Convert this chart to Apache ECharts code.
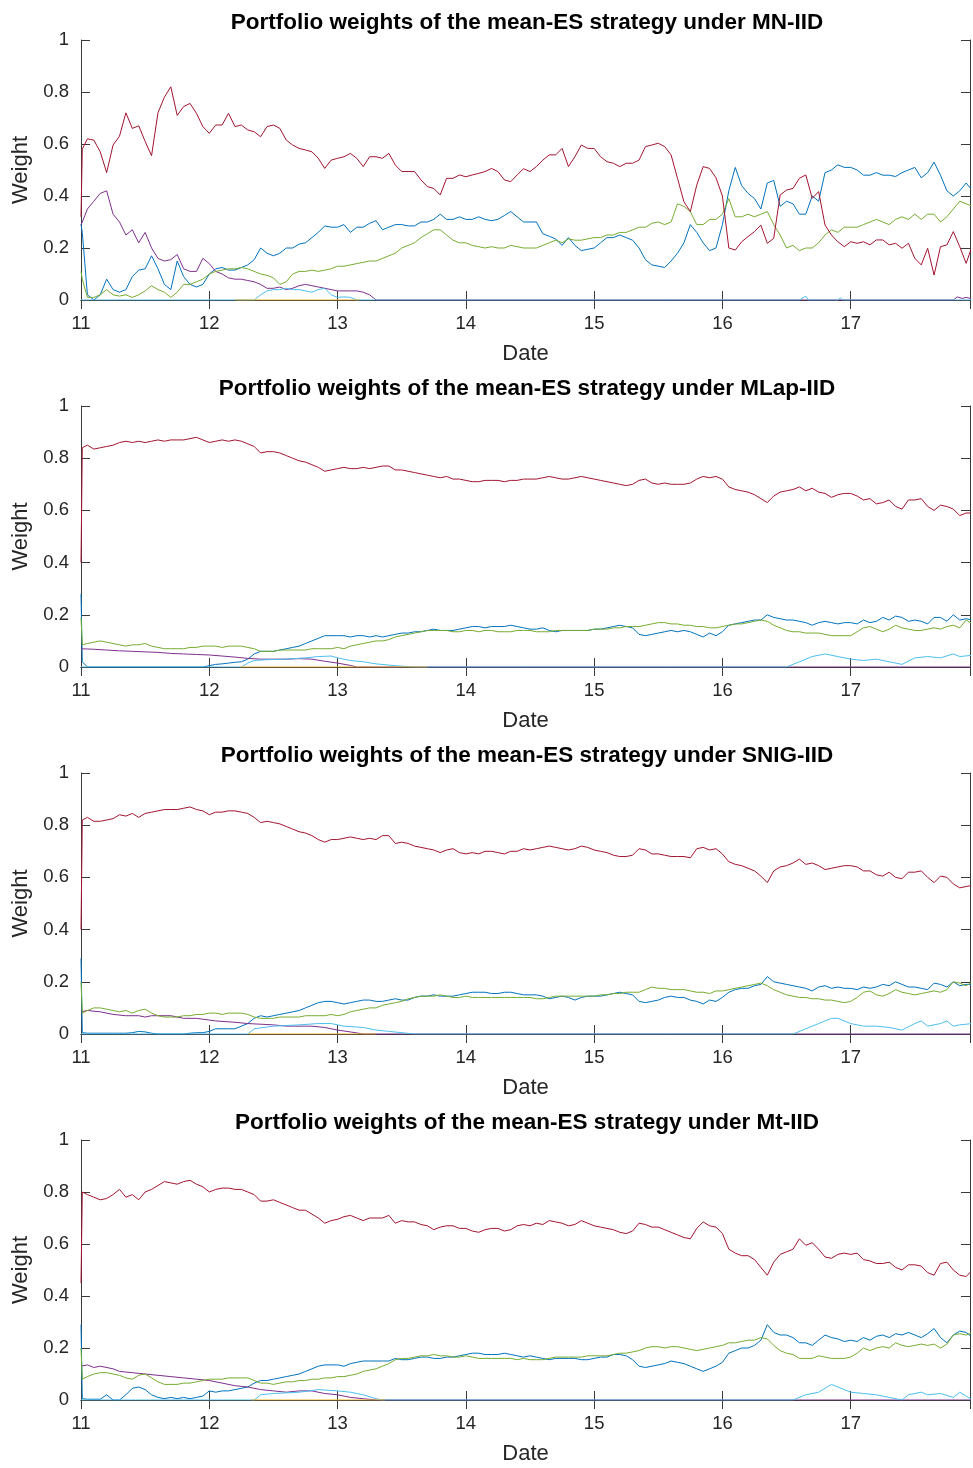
<!DOCTYPE html>
<html><head><meta charset="utf-8">
<script src="https://cdn.jsdelivr.net/npm/echarts@6/dist/echarts.min.js"></script>
<style>html,body{margin:0;padding:0;background:#fff}#c{width:973px;height:1468px}</style>
</head><body><div id="c"></div>
<script>
const panelTitles = [
  'Portfolio weights of the mean-ES strategy under MN-IID',
  'Portfolio weights of the mean-ES strategy under MLap-IID',
  'Portfolio weights of the mean-ES strategy under SNIG-IID',
  'Portfolio weights of the mean-ES strategy under Mt-IID'
];
const xName = 'Date', yName = 'Weight';

// x positions of the sampled values: start, just after start, then every 0.05
const xGrid = [11.0, 11.01];
for (let k = 1; k <= 139; k++) xGrid.push(+(11 + 0.05 * k).toFixed(2));

// ---------- Panel 1: MN-IID ----------
const mnRed = [0.32,
 0.58,0.62,0.615,0.57,0.49,0.596,0.63,0.72,0.66,0.67,0.61,0.555,0.72,0.78,0.82,0.71,0.744,0.756,0.718,0.667,
 0.641,0.673,0.673,0.718,0.667,0.673,0.654,0.647,0.628,0.667,0.673,0.66,0.615,0.596,0.583,0.577,0.57,0.545,0.506,0.538,
 0.545,0.551,0.564,0.545,0.513,0.551,0.551,0.545,0.564,0.519,0.494,0.494,0.494,0.462,0.436,0.429,0.404,0.468,0.468,0.481,
 0.474,0.481,0.487,0.494,0.506,0.494,0.462,0.455,0.481,0.505,0.494,0.513,0.538,0.558,0.558,0.583,0.513,0.551,0.596,0.583,
 0.583,0.551,0.532,0.526,0.513,0.526,0.526,0.538,0.59,0.596,0.603,0.59,0.558,0.468,0.378,0.34,0.442,0.513,0.506,0.47,
 0.40,0.2,0.192,0.224,0.244,0.263,0.288,0.218,0.237,0.404,0.423,0.429,0.468,0.481,0.391,0.417,0.288,0.25,0.224,0.205,
 0.224,0.218,0.224,0.212,0.231,0.231,0.212,0.218,0.199,0.218,0.16,0.135,0.199,0.096,0.205,0.212,0.263,0.205,0.141,0.212];
const mnBlue = [0.29,
 0.26,0.02,0.0,0.02,0.08,0.04,0.03,0.04,0.09,0.115,0.12,0.17,0.12,0.06,0.04,0.15,0.09,0.06,0.05,0.06,
 0.1,0.12,0.125,0.115,0.115,0.125,0.135,0.155,0.2,0.18,0.17,0.18,0.2,0.2,0.215,0.22,0.24,0.26,0.285,0.28,
 0.28,0.29,0.26,0.28,0.28,0.295,0.305,0.27,0.28,0.29,0.29,0.285,0.285,0.3,0.3,0.31,0.33,0.31,0.31,0.32,
 0.31,0.31,0.32,0.31,0.305,0.31,0.325,0.34,0.32,0.3,0.3,0.3,0.255,0.245,0.235,0.21,0.24,0.21,0.19,0.195,
 0.2,0.22,0.24,0.24,0.25,0.24,0.23,0.2,0.155,0.135,0.13,0.125,0.15,0.18,0.22,0.29,0.26,0.22,0.19,0.2,
 0.29,0.42,0.51,0.44,0.41,0.39,0.35,0.45,0.46,0.36,0.38,0.37,0.33,0.33,0.4,0.38,0.49,0.5,0.52,0.51,
 0.51,0.5,0.48,0.48,0.49,0.48,0.48,0.475,0.49,0.5,0.51,0.47,0.49,0.53,0.48,0.42,0.4,0.42,0.45,0.42];
const mnGreen = [0.11,
 0.08,0.01,0.01,0.02,0.04,0.02,0.015,0.02,0.01,0.02,0.035,0.055,0.04,0.03,0.01,0.03,0.06,0.06,0.07,0.08,
 0.1,0.11,0.115,0.12,0.12,0.125,0.12,0.11,0.1,0.095,0.085,0.06,0.07,0.1,0.11,0.11,0.115,0.11,0.115,0.12,
 0.13,0.13,0.135,0.14,0.145,0.15,0.15,0.16,0.17,0.18,0.2,0.21,0.22,0.24,0.255,0.27,0.27,0.25,0.23,0.22,
 0.22,0.21,0.205,0.2,0.205,0.2,0.2,0.21,0.205,0.2,0.2,0.2,0.21,0.22,0.23,0.22,0.235,0.23,0.23,0.235,
 0.24,0.24,0.25,0.25,0.26,0.26,0.27,0.28,0.28,0.295,0.3,0.29,0.3,0.37,0.36,0.34,0.29,0.29,0.31,0.31,
 0.33,0.39,0.32,0.32,0.33,0.32,0.33,0.34,0.29,0.25,0.2,0.21,0.19,0.2,0.2,0.22,0.25,0.27,0.26,0.28,
 0.28,0.28,0.29,0.3,0.31,0.3,0.29,0.31,0.32,0.31,0.33,0.31,0.33,0.33,0.3,0.32,0.35,0.38,0.37,0.36];
const mnPurple = [[11.0,0.29],[11.01,0.3],[11.05,0.35],[11.1,0.38],[11.15,0.41],[11.2,0.42],[11.25,0.33],[11.3,0.3],[11.35,0.25],[11.4,0.27],[11.45,0.22],[11.5,0.26],[11.55,0.2],[11.6,0.16],[11.65,0.15],[11.7,0.155],[11.75,0.175],[11.8,0.12],[11.85,0.11],[11.9,0.11],[11.95,0.16],[12.0,0.14],[12.05,0.11],[12.1,0.1],[12.15,0.085],[12.2,0.08],[12.25,0.08],[12.3,0.075],[12.35,0.07],[12.4,0.06],[12.45,0.045],[12.5,0.045],[12.55,0.05],[12.6,0.04],[12.65,0.045],[12.7,0.055],[12.75,0.06],[12.8,0.055],[12.85,0.05],[12.9,0.045],[12.95,0.04],[13.0,0.035],[13.05,0.035],[13.1,0.035],[13.15,0.035],[13.2,0.03],[13.25,0.02],[13.3,0],[17.8,0],[17.83,0.012],[17.87,0.006],[17.9,0.01],[17.95,0.004]];
const mnCyan = [[11.0,0],[12.35,0],[12.4,0.02],[12.45,0.035],[12.5,0.04],[12.55,0.04],[12.6,0.045],[12.65,0.04],[12.7,0.04],[12.75,0.035],[12.8,0.03],[12.85,0.04],[12.9,0.045],[12.95,0.02],[13.0,0.01],[13.05,0.012],[13.1,0.01],[13.15,0],[16.6,0],[16.65,0.015],[16.67,0],[16.9,0],[16.92,0.008],[16.94,0],[17.95,0]];
const mnYellow = [[12.2,0],[13.17,0]];

// ---------- Panel 2: MLap-IID ----------
const mlRed = [0.4,
 0.84,0.85,0.835,0.84,0.845,0.85,0.86,0.865,0.86,0.865,0.86,0.865,0.87,0.865,0.87,0.87,0.87,0.875,0.88,0.87,
 0.86,0.865,0.87,0.865,0.87,0.865,0.855,0.845,0.82,0.825,0.825,0.82,0.81,0.8,0.79,0.785,0.775,0.765,0.75,0.755,
 0.76,0.765,0.76,0.76,0.765,0.76,0.765,0.77,0.77,0.755,0.755,0.75,0.745,0.74,0.735,0.73,0.725,0.73,0.72,0.72,
 0.715,0.71,0.71,0.715,0.715,0.715,0.71,0.715,0.715,0.72,0.72,0.72,0.725,0.73,0.725,0.72,0.72,0.725,0.73,0.725,
 0.72,0.715,0.71,0.705,0.7,0.695,0.7,0.715,0.72,0.705,0.7,0.705,0.7,0.7,0.7,0.705,0.72,0.73,0.725,0.73,
 0.72,0.69,0.68,0.675,0.67,0.66,0.645,0.63,0.655,0.67,0.675,0.68,0.69,0.675,0.685,0.67,0.665,0.65,0.66,0.665,
 0.665,0.655,0.64,0.645,0.625,0.63,0.64,0.615,0.605,0.64,0.64,0.645,0.615,0.6,0.62,0.615,0.605,0.58,0.59,0.59];
const mlBlue = [0.28,
 0.02,0,0,0,0,0,0,0,0,0,0,0,0,0,0,0,0,0,0,0,
 0.005,0.01,0.012,0.015,0.018,0.02,0.03,0.05,0.06,0.06,0.06,0.065,0.07,0.075,0.08,0.09,0.1,0.11,0.12,0.12,
 0.12,0.12,0.115,0.12,0.12,0.115,0.12,0.115,0.12,0.125,0.13,0.13,0.135,0.135,0.14,0.145,0.14,0.14,0.14,0.145,
 0.15,0.155,0.155,0.15,0.155,0.155,0.155,0.16,0.155,0.15,0.145,0.145,0.15,0.14,0.135,0.14,0.14,0.14,0.14,0.14,
 0.145,0.145,0.15,0.155,0.16,0.155,0.15,0.125,0.12,0.125,0.13,0.135,0.14,0.135,0.14,0.135,0.125,0.115,0.13,0.12,
 0.135,0.16,0.165,0.17,0.175,0.18,0.18,0.2,0.19,0.185,0.18,0.18,0.175,0.17,0.16,0.17,0.175,0.17,0.165,0.17,
 0.17,0.165,0.18,0.17,0.175,0.19,0.18,0.195,0.19,0.175,0.18,0.175,0.165,0.19,0.19,0.175,0.2,0.18,0.185,0.18];
const mlGreen = [0.19,
 0.085,0.09,0.095,0.1,0.095,0.09,0.085,0.08,0.085,0.085,0.09,0.08,0.075,0.07,0.07,0.07,0.07,0.075,0.075,0.08,
 0.08,0.08,0.075,0.08,0.08,0.08,0.075,0.07,0.06,0.06,0.06,0.065,0.065,0.065,0.065,0.065,0.07,0.07,0.07,0.07,
 0.075,0.07,0.08,0.085,0.09,0.095,0.1,0.1,0.105,0.115,0.12,0.125,0.13,0.135,0.14,0.14,0.14,0.14,0.135,0.135,
 0.14,0.14,0.135,0.14,0.14,0.135,0.135,0.135,0.14,0.14,0.14,0.135,0.135,0.135,0.14,0.14,0.14,0.14,0.14,0.14,
 0.145,0.145,0.145,0.15,0.15,0.155,0.155,0.155,0.16,0.165,0.17,0.17,0.165,0.165,0.16,0.16,0.155,0.155,0.15,0.15,
 0.155,0.16,0.165,0.165,0.17,0.175,0.18,0.175,0.16,0.15,0.14,0.135,0.135,0.13,0.13,0.13,0.125,0.12,0.12,0.12,
 0.12,0.135,0.15,0.155,0.145,0.135,0.145,0.16,0.15,0.145,0.14,0.14,0.145,0.15,0.145,0.155,0.16,0.15,0.18,0.165];
const mlPurple = [[11.0,0.07],[11.1,0.068],[11.2,0.065],[11.3,0.062],[11.4,0.06],[11.5,0.058],[11.6,0.056],[11.7,0.052],[11.8,0.05],[11.9,0.048],[12.0,0.046],[12.1,0.042],[12.2,0.038],[12.3,0.033],[12.4,0.03],[12.5,0.03],[12.6,0.03],[12.7,0.032],[12.8,0.03],[12.9,0.022],[13.0,0.015],[13.1,0.006],[13.15,0],[17.95,0]];
const mlCyan = [[11.0,0],[12.25,0],[12.3,0.015],[12.35,0.025],[12.45,0.028],[12.6,0.03],[12.75,0.035],[12.85,0.04],[12.95,0.042],[13.0,0.035],[13.1,0.025],[13.2,0.02],[13.3,0.012],[13.45,0.005],[13.6,0],[16.5,0],[16.6,0.02],[16.7,0.04],[16.8,0.05],[16.9,0.04],[17.0,0.03],[17.1,0.025],[17.2,0.03],[17.3,0.02],[17.4,0.01],[17.5,0.035],[17.6,0.04],[17.7,0.035],[17.8,0.05],[17.85,0.04],[17.95,0.045]];
const mlYellow = [[12.24,0],[13.7,0]];

// ---------- Panel 3: SNIG-IID ----------
const snRed = [0.4,
 0.82,0.83,0.815,0.815,0.82,0.825,0.84,0.835,0.845,0.83,0.845,0.85,0.855,0.86,0.86,0.86,0.865,0.87,0.86,0.855,
 0.84,0.85,0.85,0.855,0.855,0.85,0.845,0.83,0.81,0.815,0.81,0.805,0.795,0.785,0.775,0.77,0.76,0.745,0.735,0.745,
 0.745,0.75,0.755,0.75,0.745,0.75,0.745,0.76,0.76,0.73,0.735,0.73,0.72,0.715,0.71,0.705,0.695,0.705,0.71,0.695,
 0.69,0.695,0.69,0.7,0.7,0.695,0.69,0.7,0.7,0.71,0.705,0.71,0.715,0.72,0.715,0.71,0.705,0.71,0.72,0.715,
 0.705,0.7,0.695,0.685,0.68,0.68,0.685,0.71,0.705,0.69,0.69,0.685,0.68,0.68,0.68,0.675,0.71,0.715,0.705,0.71,
 0.69,0.66,0.65,0.645,0.635,0.625,0.605,0.58,0.625,0.64,0.645,0.655,0.67,0.65,0.655,0.645,0.63,0.635,0.64,0.645,
 0.645,0.64,0.625,0.625,0.61,0.605,0.62,0.6,0.595,0.62,0.62,0.625,0.6,0.58,0.605,0.6,0.575,0.56,0.565,0.57];
const snBlue = [0.29,
 0.005,0.003,0.003,0.003,0.003,0.003,0.003,0.003,0.005,0.01,0.008,0.003,0,0,0,0,0,0.003,0.005,0.005,
 0.01,0.02,0.02,0.02,0.02,0.03,0.04,0.06,0.07,0.065,0.07,0.075,0.08,0.085,0.09,0.1,0.11,0.12,0.125,0.125,
 0.12,0.115,0.12,0.125,0.13,0.13,0.125,0.125,0.13,0.135,0.13,0.13,0.14,0.145,0.145,0.15,0.145,0.145,0.145,0.15,
 0.155,0.16,0.16,0.16,0.155,0.155,0.16,0.16,0.155,0.15,0.15,0.15,0.145,0.135,0.14,0.145,0.14,0.13,0.14,0.145,
 0.145,0.145,0.15,0.155,0.16,0.155,0.15,0.125,0.12,0.125,0.13,0.14,0.145,0.14,0.14,0.13,0.125,0.115,0.13,0.125,
 0.14,0.16,0.17,0.175,0.175,0.185,0.19,0.22,0.2,0.195,0.19,0.185,0.18,0.175,0.165,0.18,0.185,0.175,0.18,0.175,
 0.175,0.17,0.18,0.175,0.18,0.19,0.185,0.2,0.19,0.18,0.18,0.175,0.17,0.195,0.19,0.18,0.2,0.185,0.19,0.19];
const snGreen = [0.2,
 0.08,0.09,0.1,0.1,0.095,0.09,0.085,0.09,0.08,0.09,0.095,0.08,0.07,0.065,0.065,0.065,0.07,0.07,0.075,0.075,
 0.08,0.08,0.075,0.08,0.08,0.08,0.075,0.065,0.06,0.06,0.06,0.065,0.065,0.065,0.065,0.07,0.07,0.07,0.07,0.075,
 0.07,0.075,0.085,0.09,0.095,0.1,0.1,0.11,0.115,0.12,0.125,0.135,0.14,0.145,0.145,0.145,0.15,0.145,0.14,0.14,
 0.145,0.14,0.14,0.14,0.14,0.14,0.14,0.14,0.14,0.14,0.14,0.135,0.135,0.14,0.145,0.145,0.145,0.145,0.145,0.145,
 0.145,0.15,0.15,0.155,0.155,0.16,0.16,0.16,0.17,0.18,0.175,0.175,0.17,0.17,0.17,0.165,0.16,0.16,0.155,0.165,
 0.165,0.17,0.175,0.18,0.185,0.19,0.195,0.185,0.17,0.16,0.15,0.145,0.14,0.14,0.135,0.135,0.13,0.13,0.125,0.12,
 0.125,0.14,0.16,0.165,0.15,0.145,0.155,0.17,0.16,0.155,0.15,0.155,0.16,0.165,0.16,0.17,0.2,0.195,0.185,0.2];
const snPurple = [[11.0,0.085],[11.05,0.09],[11.15,0.085],[11.25,0.075],[11.35,0.07],[11.45,0.07],[11.5,0.065],[11.55,0.07],[11.7,0.07],[11.8,0.06],[11.9,0.06],[12.05,0.05],[12.2,0.045],[12.3,0.04],[12.5,0.035],[12.6,0.03],[12.8,0.03],[12.9,0.025],[13.0,0.015],[13.1,0.008],[13.2,0],[17.95,0]];
const snCyan = [[11.0,0],[12.3,0],[12.35,0.02],[12.5,0.03],[12.7,0.035],[12.85,0.04],[12.95,0.04],[13.05,0.03],[13.2,0.025],[13.3,0.015],[13.4,0.01],[13.6,0],[16.55,0],[16.65,0.02],[16.75,0.04],[16.85,0.06],[16.9,0.06],[17.0,0.04],[17.1,0.03],[17.2,0.03],[17.3,0.025],[17.4,0.015],[17.5,0.04],[17.55,0.05],[17.6,0.03],[17.7,0.04],[17.75,0.05],[17.8,0.03],[17.85,0.035],[17.95,0.04]];
const snYellow = [[12.3,0],[13.3,0]];

// ---------- Panel 4: Mt-IID ----------
const mtRed = [0.45,
 0.8,0.79,0.78,0.77,0.775,0.79,0.81,0.78,0.79,0.77,0.8,0.81,0.825,0.84,0.835,0.83,0.84,0.845,0.83,0.82,
 0.8,0.81,0.815,0.815,0.81,0.81,0.8,0.79,0.765,0.765,0.77,0.76,0.75,0.74,0.73,0.73,0.715,0.7,0.68,0.69,
 0.695,0.705,0.71,0.7,0.69,0.7,0.7,0.7,0.71,0.68,0.69,0.685,0.685,0.675,0.67,0.655,0.665,0.67,0.67,0.66,
 0.66,0.65,0.645,0.655,0.66,0.66,0.65,0.655,0.67,0.675,0.67,0.68,0.675,0.69,0.685,0.68,0.67,0.675,0.69,0.68,
 0.67,0.665,0.66,0.655,0.645,0.64,0.65,0.68,0.675,0.665,0.665,0.655,0.645,0.635,0.625,0.62,0.66,0.685,0.67,0.665,
 0.64,0.58,0.565,0.555,0.555,0.54,0.51,0.48,0.53,0.56,0.57,0.58,0.62,0.595,0.605,0.58,0.55,0.545,0.56,0.565,
 0.56,0.565,0.54,0.535,0.525,0.525,0.53,0.51,0.5,0.52,0.52,0.515,0.49,0.48,0.525,0.53,0.5,0.48,0.475,0.5];
const mtBlue = [0.29,
 0.005,0.003,0.003,0.003,0.02,0,0,0.02,0.045,0.05,0.04,0.02,0.01,0.005,0.01,0.005,0.01,0.005,0.01,0.015,
 0.035,0.03,0.035,0.035,0.04,0.045,0.05,0.065,0.075,0.075,0.08,0.085,0.09,0.095,0.1,0.11,0.12,0.13,0.135,0.135,
 0.135,0.13,0.14,0.145,0.15,0.15,0.15,0.15,0.15,0.16,0.155,0.155,0.16,0.165,0.165,0.16,0.16,0.165,0.165,0.17,
 0.175,0.18,0.18,0.175,0.175,0.175,0.18,0.175,0.17,0.165,0.17,0.165,0.16,0.155,0.16,0.16,0.16,0.16,0.155,0.155,
 0.16,0.165,0.165,0.175,0.175,0.17,0.155,0.13,0.125,0.13,0.135,0.14,0.15,0.145,0.14,0.13,0.12,0.11,0.12,0.13,
 0.145,0.18,0.19,0.2,0.2,0.21,0.23,0.29,0.26,0.25,0.25,0.24,0.22,0.22,0.21,0.23,0.25,0.24,0.235,0.225,
 0.23,0.225,0.24,0.23,0.245,0.25,0.24,0.255,0.25,0.26,0.25,0.24,0.255,0.275,0.24,0.22,0.25,0.265,0.26,0.24];
const mtGreen = [0.2,
 0.08,0.09,0.1,0.105,0.105,0.1,0.095,0.085,0.08,0.095,0.1,0.085,0.07,0.06,0.06,0.06,0.065,0.065,0.07,0.075,
 0.08,0.08,0.08,0.085,0.085,0.085,0.085,0.075,0.065,0.065,0.06,0.065,0.07,0.07,0.075,0.075,0.08,0.08,0.085,0.085,
 0.09,0.09,0.095,0.1,0.11,0.115,0.12,0.13,0.14,0.155,0.16,0.16,0.165,0.17,0.17,0.175,0.17,0.17,0.165,0.165,
 0.17,0.165,0.16,0.16,0.16,0.16,0.16,0.16,0.155,0.16,0.155,0.155,0.155,0.16,0.165,0.165,0.165,0.165,0.165,0.17,
 0.17,0.17,0.17,0.175,0.18,0.18,0.185,0.19,0.2,0.205,0.205,0.2,0.205,0.205,0.2,0.195,0.19,0.195,0.2,0.205,
 0.21,0.22,0.22,0.225,0.23,0.23,0.24,0.235,0.21,0.19,0.18,0.175,0.16,0.16,0.16,0.17,0.165,0.16,0.16,0.16,
 0.165,0.18,0.2,0.19,0.2,0.205,0.2,0.22,0.21,0.205,0.21,0.215,0.21,0.215,0.2,0.215,0.25,0.255,0.25,0.26];
const mtPurple = [[11.0,0.13],[11.05,0.135],[11.1,0.125],[11.15,0.13],[11.25,0.12],[11.3,0.11],[11.4,0.105],[11.5,0.1],[11.6,0.095],[11.7,0.09],[11.8,0.085],[11.9,0.08],[12.0,0.075],[12.1,0.065],[12.2,0.055],[12.3,0.05],[12.4,0.04],[12.5,0.035],[12.6,0.03],[12.7,0.035],[12.8,0.035],[12.9,0.025],[13.0,0.02],[13.1,0.01],[13.2,0.005],[13.3,0],[17.95,0]];
const mtCyan = [[11.0,0],[12.35,0],[12.4,0.02],[12.5,0.025],[12.7,0.03],[12.85,0.04],[13.0,0.035],[13.1,0.03],[13.2,0.02],[13.3,0.005],[13.35,0],[16.55,0],[16.65,0.02],[16.75,0.03],[16.85,0.06],[16.9,0.05],[17.0,0.03],[17.1,0.025],[17.2,0.02],[17.3,0.01],[17.4,0],[17.45,0.02],[17.55,0.03],[17.6,0.02],[17.7,0.025],[17.8,0.01],[17.85,0.03],[17.95,0]];
const mtYellow = [[12.33,0],[13.37,0]];

const panels = [
  {red: mnRed, blue: mnBlue, green: mnGreen, purple: mnPurple, cyan: mnCyan, yellow: mnYellow},
  {red: mlRed, blue: mlBlue, green: mlGreen, purple: mlPurple, cyan: mlCyan, yellow: mlYellow},
  {red: snRed, blue: snBlue, green: snGreen, purple: snPurple, cyan: snCyan, yellow: snYellow},
  {red: mtRed, blue: mtBlue, green: mtGreen, purple: mtPurple, cyan: mtCyan, yellow: mtYellow}
];

const COL = {blue:'#0072BD', yellow:'#EDB120', purple:'#7E2F8E', green:'#77AC30', cyan:'#4DBEEE', red:'#A2142F'};
const tops = [40, 406, 773, 1140];
const heights = [260, 261, 261, 260];
const AX = '#3a3a3a';
const FONT = 'Liberation Sans, Arial, Helvetica, sans-serif';

const grid = [], xAxis = [], yAxis = [], series = [], title = [];
const onGrid = v => v.map((y, i) => [xGrid[i], y]);

panels.forEach((p, i) => {
  grid.push({left: 81, right: 0, top: tops[i], height: heights[i], containLabel: false});
  title.push({text: panelTitles[i], left: 522, top: tops[i] - 34, textAlign: 'center',
    textStyle: {fontFamily: FONT, fontWeight: 'bold', fontSize: 22.5, color: '#000'}});
  const common = {type: 'value', gridIndex: i, min: 11, max: 17.93, interval: 1,
    axisLine: {show: true, lineStyle: {color: AX, width: 1}},
    axisTick: {show: true, inside: true, length: 9, lineStyle: {color: AX}},
    splitLine: {show: false}};
  xAxis.push(Object.assign({}, common, {position: 'bottom',
    name: xName, nameLocation: 'middle', nameGap: 43,
    nameTextStyle: {fontFamily: FONT, fontSize: 22, color: '#262626'},
    axisLabel: {show: true, margin: 14, fontFamily: FONT, fontSize: 18.5, color: '#262626',
      formatter: v => (Number.isInteger(v) ? String(v) : '')}}));
  xAxis.push(Object.assign({}, common, {position: 'top', axisLabel: {show: false}}));
  const ycommon = {type: 'value', gridIndex: i, min: 0, max: 1, interval: 0.2,
    axisLine: {show: true, lineStyle: {color: AX, width: 1}},
    axisTick: {show: true, inside: true, length: 9, lineStyle: {color: AX}},
    splitLine: {show: false}};
  yAxis.push(Object.assign({}, ycommon, {position: 'left',
    name: yName, nameLocation: 'middle', nameGap: 49, nameRotate: 90,
    nameTextStyle: {fontFamily: FONT, fontSize: 22, color: '#262626'},
    axisLabel: {show: true, margin: 12, fontFamily: FONT, fontSize: 18.5, color: '#262626'}}));
  yAxis.push(Object.assign({}, ycommon, {position: 'right', axisLabel: {show: false}}));

  const mk = (name, data, color) => ({
    type: 'line', name, xAxisIndex: 2 * i, yAxisIndex: 2 * i, data,
    showSymbol: false, symbol: 'none', clip: true, animation: false,
    lineStyle: {color, width: 1}, itemStyle: {color}, z: 3
  });
  series.push(mk('blue', onGrid(p.blue), COL.blue));
  series.push(mk('purple', p.purple, COL.purple));
  series.push(mk('green', onGrid(p.green), COL.green));
  series.push(mk('cyan', p.cyan, COL.cyan));
  series.push(mk('yellow', p.yellow, COL.yellow));
  series.push(mk('red', onGrid(p.red), COL.red));
});

const chart = echarts.init(document.getElementById('c'), null, {renderer: 'canvas'});
chart.setOption({backgroundColor: '#fff', animation: false, title, grid, xAxis, yAxis, series});
</script></body></html>
